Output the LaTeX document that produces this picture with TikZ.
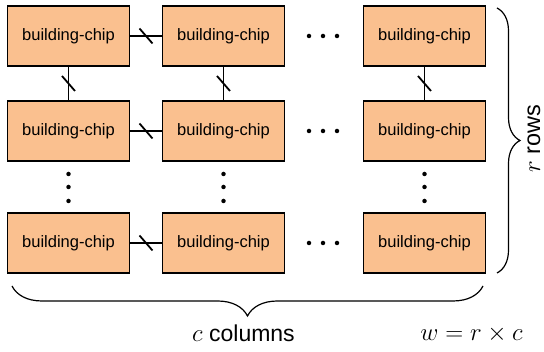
\documentclass[tikz,border=0pt]{standalone}
\usepackage{amsmath}
\usepackage{fontspec}
\setmainfont{Liberation Sans}
\usetikzlibrary{calc,decorations.pathreplacing}
\definecolor{chipfill}{RGB}{250,192,143}

\begin{document}
\begin{tikzpicture}[x=1pt,y=1pt,
	chip/.style={draw,line width=1.2pt,fill=chipfill,minimum width=122pt,minimum height=60pt,inner sep=0pt,font=\fontsize{16.5}{18}\selectfont},
	link/.style={line width=1.8pt},
	dotdot/.style={circle,fill,inner sep=0pt,minimum size=4.5pt}]
	\useasboundingbox (0,0) rectangle (544,352);
	% chips
	\node[chip] (c11) at (68.5,316) {building-chip};
	\node[chip] (c12) at (223.5,316) {building-chip};
	\node[chip] (c13) at (424.5,316) {building-chip};
	\node[chip] (c21) at (68.5,221) {building-chip};
	\node[chip] (c22) at (223.5,221) {building-chip};
	\node[chip] (c23) at (424.5,221) {building-chip};
	\node[chip] (c31) at (68.5,109) {building-chip};
	\node[chip] (c32) at (223.5,109) {building-chip};
	\node[chip] (c33) at (424.5,109) {building-chip};
	% links
	\draw[link] (c11) -- (c12);
	\draw[link] (c21) -- (c22);
	\draw[link] (c31) -- (c32);
	\draw[link] (c11) -- (c21);
	\draw[link] (c12) -- (c22);
	\draw[link] (c13) -- (c23);
	\foreach \a/\b in {c11/c12,c21/c22,c31/c32,c11/c21,c12/c22,c13/c23}
		\draw[link] ($(\a)!.5!(\b)$) ++(-6.5,7.5) -- ++(13,-15);
	% dots
	\foreach \y in {316,221,109}
		\foreach \x in {309,323,337}
			\node[dotdot] at (\x,\y) {};
	\foreach \x in {68.5,223.5,424.5}
		\foreach \y in {178,165,151}
			\node[dotdot] at (\x,\y) {};
	% braces
	\coordinate (rtop) at (497,344);
	\coordinate (rbot) at (497,79);
	\coordinate (cleft) at (12,66);
	\coordinate (cright) at (483,66);
	\draw[line width=1.2pt,decorate,decoration={brace,amplitude=23pt}] (rtop) -- (rbot);
	\draw[line width=1.2pt,decorate,decoration={brace,amplitude=30pt}] (cright) -- (cleft);
	\node[rotate=90,anchor=base,inner sep=0pt,font=\fontsize{23.5}{26}\selectfont] (rows) at (540,213) {$r$ rows};
	\node[anchor=base,font=\fontsize{23}{26}\selectfont] (cols) at (243.5,10) {$c$ columns};
	\node[anchor=base,font=\fontsize{28}{30}\selectfont] (w) at (471.5,11) {$w=r\times c$};
\end{tikzpicture}
\end{document}
